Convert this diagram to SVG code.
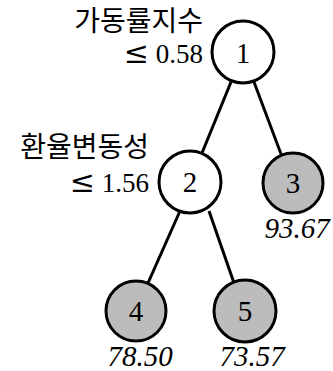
<svg xmlns="http://www.w3.org/2000/svg" width="333" height="371" viewBox="0 0 333 371">
<style>
.n{fill:#fff;stroke:#000;stroke-width:3}
.leaf{fill:#bcbcbc;stroke:#000;stroke-width:3}
.e{stroke:#000;stroke-width:3;fill:none}
.num{font-family:"Liberation Serif","DejaVu Serif",serif;font-size:29px;text-anchor:middle;fill:#000}
.lab{font-family:"Noto Sans CJK KR",sans-serif;font-size:28px;text-anchor:end;fill:#000}
.cond{font-family:"Liberation Serif","DejaVu Serif",serif;font-size:27px;text-anchor:end;fill:#000}
.le{font-family:"DejaVu Serif",serif;font-size:30px}
.val{font-family:"Liberation Serif","DejaVu Serif",serif;font-size:29px;font-style:italic;text-anchor:middle;fill:#000}
</style>
<rect width="333" height="371" fill="#fff"/>
<g id="edges">
<line class="e" x1="231" y1="82" x2="202" y2="153"/>
<line class="e" x1="254" y1="82" x2="281" y2="154"/>
<line class="e" x1="180" y1="211" x2="148" y2="283"/>
<line class="e" x1="209" y1="211" x2="234" y2="283"/>
</g>
<g id="node1">
<circle class="n" cx="243" cy="52" r="31"/>
<text class="num" x="243" y="63">1</text>
<text class="lab" x="203" y="31">가동률지수</text>
<text class="cond" x="203" y="63"><tspan class="le">≤</tspan> 0.58</text>
</g>
<g id="node2">
<circle class="n" cx="190" cy="182" r="31"/>
<text class="num" x="190" y="192">2</text>
<text class="lab" x="149" y="157">환율변동성</text>
<text class="cond" x="149" y="192"><tspan class="le">≤</tspan> 1.56</text>
</g>
<g id="node3">
<circle class="leaf" cx="293" cy="183" r="30"/>
<text class="num" x="293" y="193">3</text>
<text class="val" x="297" y="238">93.67</text>
</g>
<g id="node4">
<circle class="leaf" cx="136" cy="311" r="30"/>
<text class="num" x="136" y="321">4</text>
<text class="val" x="140" y="366">78.50</text>
</g>
<g id="node5">
<circle class="leaf" cx="245" cy="311" r="31"/>
<text class="num" x="245" y="321">5</text>
<text class="val" x="252" y="366">73.57</text>
</g>
</svg>
